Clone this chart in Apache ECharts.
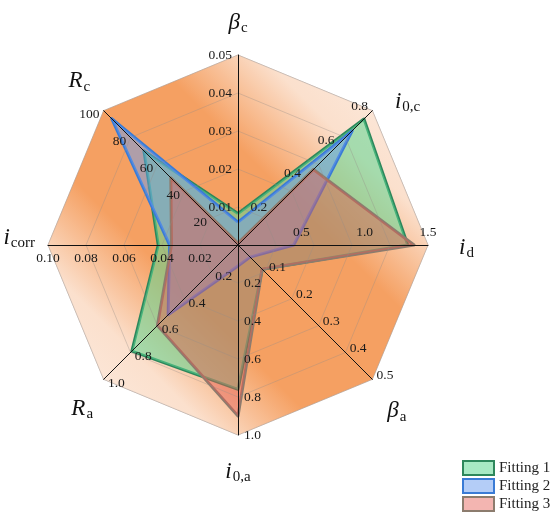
<!DOCTYPE html>
<html>
<head>
<meta charset="utf-8">
<script src="https://cdn.jsdelivr.net/npm/echarts@6/dist/echarts.min.js"></script>
<style>
  html, body { margin: 0; padding: 0; background: #fff; }
  #main { width: 550px; height: 517px; }
</style>
</head>
<body>
<div id="main"></div>
<script>
// axes, counter-clockwise from the top (echarts order)
var axisNames = ['βc', 'Rc', 'icorr', 'Ra', 'i0,a', 'βa', 'id', 'i0,c'];
var axisMax = [0.05, 100, 0.10, 1.0, 1.0, 0.5, 1.5, 0.8];
var axisSplits = [5, 5, 5, 5, 5, 5, 3, 4];
var labelDigits = [2, 0, 2, 1, 1, 1, 1, 1];

var seriesNames = ['Fitting 1', 'Fitting 2', 'Fitting 3'];
var fitting1 = [0.0083, 70, 0.042, 0.79, 0.76, 0.09, 1.34, 0.75];
var fitting2 = [0.006, 94, 0.036, 0.52, 0.11, 0.045, 0.44, 0.68];
var fitting3 = [0.0005, 50, 0.035, 0.60, 0.90, 0.09, 1.39, 0.45];

var nameRich = {
  'βc': '{v|β}{s|c}',
  'Rc': '{v|R}{s|c}',
  'icorr': '{v|i}{s|corr}',
  'Ra': '{v|R}{s|a}',
  'i0,a': '{v|i}{s|0,a}',
  'βa': '{v|β}{s|a}',
  'id': '{v|i}{s|d}',
  'i0,c': '{v|i}{s|0,c}'
};

// name placement tweaks per axis (same order as axisNames)
var nameGaps = [21, 19, 13, 15, 25, 21, 31, 32];
var namePads = [[0, 0, 0, 0], [0, 0, 32, 0], [0, 0, 14, 0], [38, 0, 0, 0],
                [0, 0, 0, 0], [34, 0, 0, 0], [6, 0, 0, 0], [27, 0, 0, 0]];

var serif = 'Liberation Serif';
var lineColors = ['#2d875c', '#3a7bd5', '#8c7c6e'];
var fillColors = ['rgba(95,215,148,0.55)', 'rgba(105,155,240,0.5)', 'rgba(228,90,82,0.45)'];

// one radar per split count, all stacked on the same centre
function makeRadar(splits, first) {
  return {
    center: [238, 245],
    radius: 190,
    startAngle: 90,
    splitNumber: splits,
    shape: 'polygon',
    z: 3,
    axisName: {
      show: first,
      formatter: function (n) { return nameRich[n]; },
      rich: {
        v: { fontFamily: serif, fontStyle: 'italic', fontSize: 23, color: '#111', lineHeight: 23, verticalAlign: 'top' },
        s: { fontFamily: serif, fontSize: 15, color: '#111', lineHeight: 15, padding: [11, 0, 0, 1] }
      }
    },
    indicator: axisNames.map(function (n, i) {
      return {
        name: n,
        min: 0,
        max: axisMax[i],
        nameGap: nameGaps[i],
        nameTextStyle: { padding: namePads[i] },
        axisLabel: {
          show: axisSplits[i] === splits,
          formatter: function (v) { return v.toFixed(labelDigits[i]); }
        }
      };
    }),
    axisLine: { show: first, lineStyle: { color: '#111', width: 1 } },
    axisTick: { show: false },
    axisLabel: {
      show: true,
      showMinLabel: false,
      fontFamily: serif,
      fontSize: 13.5,
      color: '#1a1a1a',
      margin: 6
    },
    splitLine: { show: first, lineStyle: { color: 'rgba(150,140,135,0.35)', width: 1 } },
    splitArea: { show: false }
  };
}

var chart = echarts.init(document.getElementById('main'));

var fits = [fitting1, fitting2, fitting3];
var series = [{
  type: 'radar',
  radarIndex: 0,
  silent: true,
  z: 1,
  symbol: 'none',
  lineStyle: { color: 'rgba(190,170,160,0.6)', width: 1 },
  areaStyle: {
    opacity: 1,
    color: {
      type: 'linear', x: 0, y: 1, x2: 1, y2: 0,
      colorStops: [
        { offset: 0, color: '#fdf0e7' },
        { offset: 0.22, color: '#fbe0cd' },
        { offset: 0.37, color: '#f5a062' },
        { offset: 0.63, color: '#f5a062' },
        { offset: 0.78, color: '#fbe0cd' },
        { offset: 1, color: '#fdf0e7' }
      ]
    }
  },
  data: [{ value: axisMax, name: 'bg' }]
}];
fits.forEach(function (vals, k) {
  series.push({
    type: 'radar',
    radarIndex: 0,
    z: 2,
    symbol: 'none',
    data: [{
      name: seriesNames[k],
      value: vals,
      lineStyle: { color: lineColors[k], width: 3 },
      itemStyle: { color: lineColors[k] },
      areaStyle: { color: fillColors[k], opacity: 1 }
    }]
  });
});

chart.setOption({
  animation: false,
  legend: {
    orient: 'vertical',
    left: 457,
    top: 455,
    itemWidth: 31,
    itemHeight: 14,
    itemGap: 2,
    textStyle: { fontFamily: serif, fontSize: 15, color: '#222' },
    data: seriesNames.map(function (n, k) {
      return {
        name: n,
        icon: 'rect',
        itemStyle: { color: fillColors[k], borderColor: lineColors[k], borderWidth: 2 }
      };
    })
  },
  radar: [makeRadar(5, true), makeRadar(4, false), makeRadar(3, false)],
  series: series
});
</script>
</body>
</html>
